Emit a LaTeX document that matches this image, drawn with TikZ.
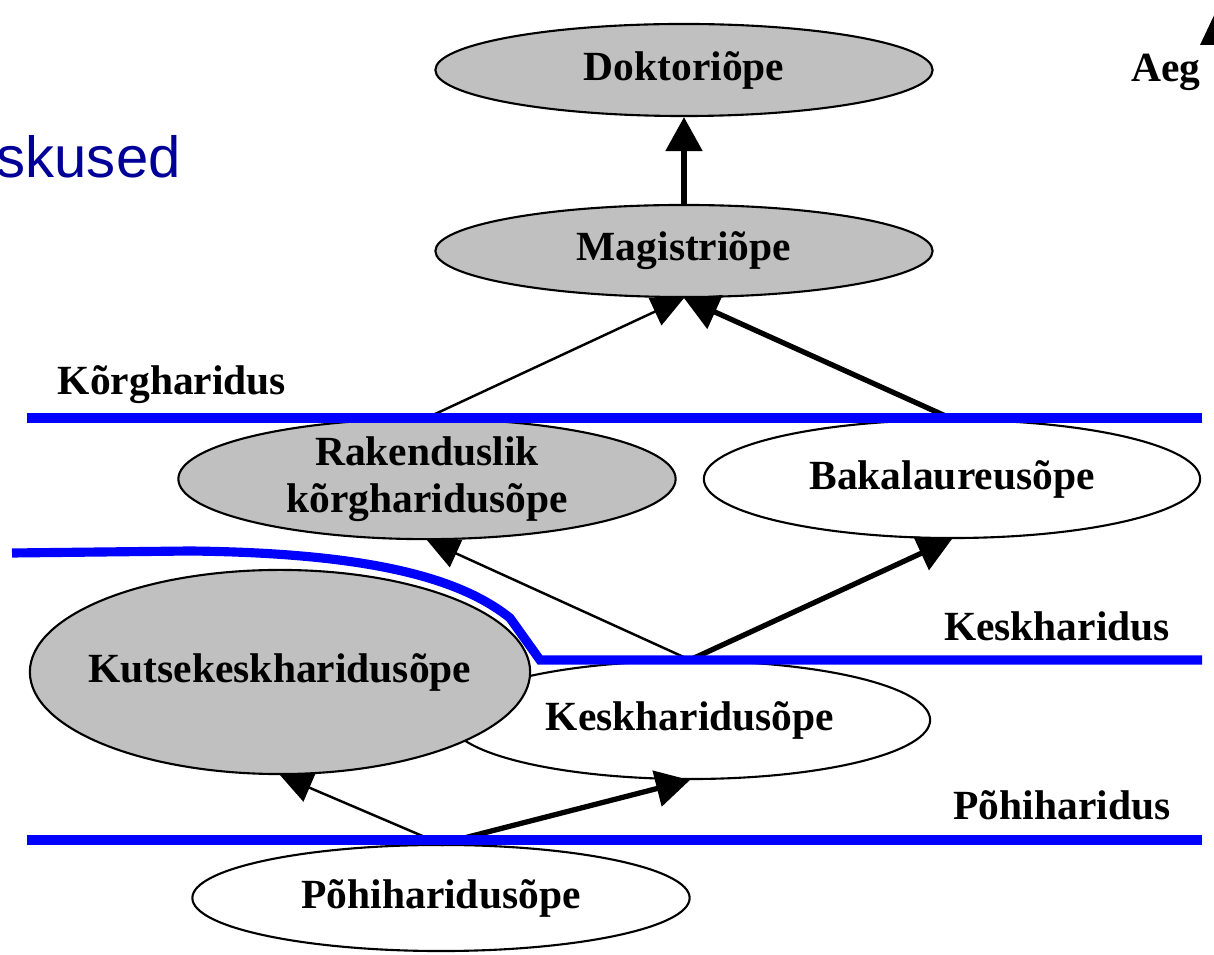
\documentclass[tikz,border=0pt]{standalone}
\usepackage{fontspec}
\setmainfont{Liberation Serif}
\newfontfamily\pealkiri{Liberation Sans}
\usepackage{tikz}
\usetikzlibrary{shapes,arrows.meta}
\definecolor{hall}{RGB}{192,192,192}
\definecolor{tumesinine}{RGB}{0,0,153}
\newcommand{\tasekiri}{\fontsize{11.8}{13.4}\selectfont\bfseries}
\tikzset{
  ovaal/.style={ellipse,draw,line width=0.6pt,inner sep=0pt,
    minimum width=4.97cm,minimum height=0.92cm,font=\tasekiri,align=center},
  ovaalhall/.style={ovaal,fill=hall},
  ovaalvalge/.style={ovaal,fill=white},
  nool/.style={line width=0.7pt,-{Triangle[length=0.32cm,width=0.3cm]}},
  paksnool/.style={line width=1.5pt,-{Triangle[length=0.34cm,width=0.36cm]}},
  piir/.style={blue,line width=2.6pt},
  tasesilt/.style={font=\tasekiri}
}

\begin{document}
\begin{tikzpicture}[x=0.01cm,y=-0.01cm]
    \useasboundingbox (0,0) rectangle (1214,955);
    \clip (0,0) rectangle (1214,955);
    %% pealkirja jupp vasakul
    \node (pealkiri) at (-4,178) [anchor=base west,inner sep=0pt,text=tumesinine,
      font=\pealkiri\fontsize{16.5}{20}\selectfont]{skused};
    %% aja telg
    \node (aeg) at (1166,72) [tasesilt]{Aeg};
    \fill (1200,45) -- (1227,-12) -- (1254,45) -- cycle;

    \node (dok) at (684,70) [ovaalhall]{Doktoriõpe};
    \node (mag) at (684,251) [ovaalhall]{Magistriõpe};
    \node (rak) at (427,479) [ovaalhall,minimum height=1.18cm]{
      Rakenduslik\\kõrgharidusõpe
    };
    \node (bak) at (952,479) [ovaalvalge,minimum width=4.96cm,minimum height=1.18cm]{Bakalaureusõpe};
    \node (kesk) at (690,720) [ovaalvalge,minimum width=4.8cm,minimum height=1.18cm]{Keskharidusõpe};
    \node (kutse) at (280,672) [ovaalhall,minimum width=5.0cm,minimum height=2.04cm,
      inner xsep=-0.16cm]{Kutsekeskharidusõpe};
    \node (pohi) at (441,898) [ovaalvalge,minimum height=1.06cm]{Põhiharidusõpe};

    %% nooled
    \draw[paksnool] (mag.north) -- (dok.south);
    \draw[nool] (rak.north) -- (mag.south);
    \draw[paksnool] (bak.north) -- (mag.south);
    \draw[nool] (kesk.north) -- (rak.south);
    \draw[paksnool] (kesk.north) -- (bak.south);
    \draw[nool] (pohi.north) -- (kutse.south);
    \draw[paksnool] (pohi.north) -- (kesk.south);

    %% tasemete piirid
    \draw[piir] (27,418) -- (1202,418);
    \draw[piir] (12,553) -- (190,551) .. controls (370,553) and (460,578) .. (510,618)
      -- (540,660) -- (1202,660);
    \draw[piir] (27,840) -- (1202,840);

    \node (korg) at (172,385) [tasesilt]{Kõrgharidus};
    \node (keskh) at (1057,626) [tasesilt]{Keskharidus};
    \node (pohih) at (1062,805) [tasesilt]{Põhiharidus};
  \end{tikzpicture}
\end{document}
